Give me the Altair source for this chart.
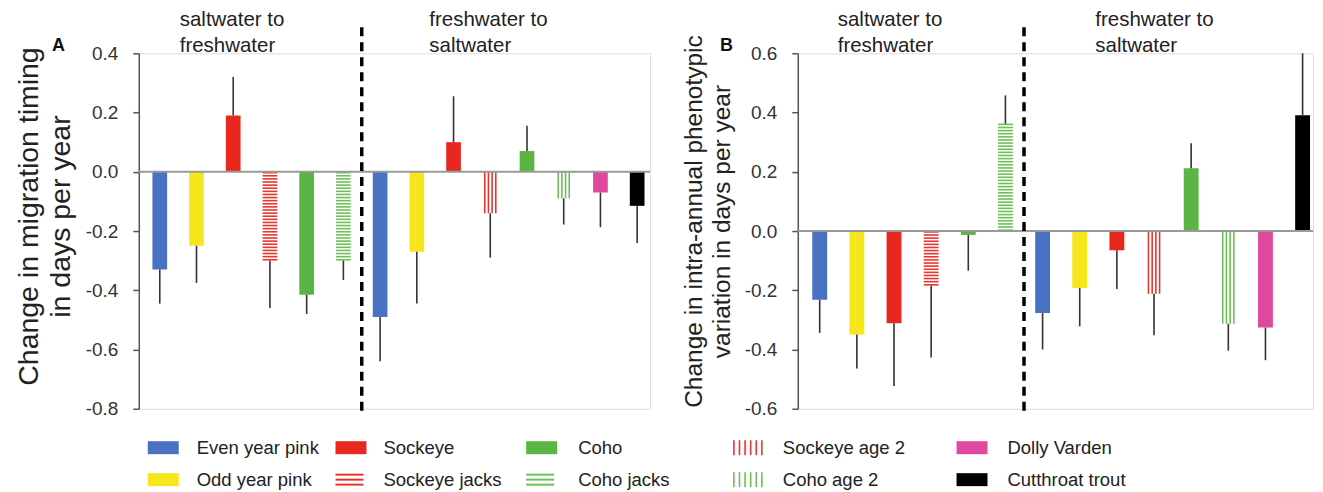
import altair as alt
import pandas as pd

FONT = "Liberation Sans"

# ---------------- data ----------------
species = [
    "Even year pink", "Odd year pink", "Sockeye", "Sockeye jacks", "Coho", "Coho jacks",
    "Even year pink", "Odd year pink", "Sockeye", "Sockeye age 2", "Coho", "Coho age 2",
    "Dolly Varden", "Cutthroat trout",
]
n_left_group = 6

# Panel A: change in migration timing (days per year) and end of error bar
a_values = [-0.33, -0.25, 0.19, -0.30, -0.415, -0.30,
            -0.49, -0.27, 0.10, -0.14, 0.07, -0.09, -0.07, -0.115]
a_err_end = [-0.445, -0.375, 0.32, -0.46, -0.48, -0.365,
             -0.64, -0.445, 0.255, -0.29, 0.155, -0.178, -0.187, -0.24]

# Panel B: change in intra-annual phenotypic variation
b_values = [-0.232, -0.349, -0.311, -0.184, -0.013, 0.362,
            -0.277, -0.192, -0.065, -0.212, 0.212, -0.313, -0.326, 0.391]
b_err_end = [-0.344, -0.464, -0.523, -0.427, -0.134, 0.458,
             -0.40, -0.322, -0.196, -0.352, 0.296, -0.404, -0.436, 0.60]

group_labels = ["saltwater to\nfreshwater", "freshwater to\nsaltwater"]

legend_columns = [
    ["Even year pink", "Odd year pink"],
    ["Sockeye", "Sockeye jacks"],
    ["Coho", "Coho jacks"],
    ["Sockeye age 2", "Coho age 2"],
    ["Dolly Varden", "Cutthroat trout"],
]

# ---------------- styles ----------------
colors = {
    "Even year pink": "#4a72c2",
    "Odd year pink": "#f5e71c",
    "Sockeye": "#e8271f",
    "Sockeye jacks": "#e8352f",
    "Sockeye age 2": "#e8352f",
    "Coho": "#5ab544",
    "Coho jacks": "#6dbf5a",
    "Coho age 2": "#6dbf5a",
    "Dolly Varden": "#e0479e",
    "Cutthroat trout": "#000000",
}
kinds = {"Sockeye jacks": "h", "Coho jacks": "h", "Sockeye age 2": "v", "Coho age 2": "v"}

HALF = 0.2          # half bar width in slot units
H_PITCH = 0.0105    # horizontal stripe pitch (data units)
V_LINES = 4         # vertical stripes per bar
PLOT_H = 356

# legend layout (pixels relative to panel A plot origin)
LEG_SWATCH_X = [9, 197, 388, 594, 819]
LEG_TEXT_X = [58, 245, 440, 645, 870]
LEG_ROW_Y = [395, 427]
SW_W, SW_H = 31, 13


def kind_of(s):
    return kinds.get(s, "s")


def panel(values, err_end, ydomain, xdomain, width, title, title_size, title_y, letter,
          letter_x, label_x):
    df = pd.DataFrame({"slot": list(range(len(species))), "species": species,
                       "value": values, "err": err_end})
    df["kind"] = df["species"].map(kind_of)
    df["color"] = df["species"].map(colors)
    df["x0"] = df["slot"] - HALF
    df["x1"] = df["slot"] + HALF
    df["base"] = 0.0

    # stripes
    hrows, vrows = [], []
    for _, r in df.iterrows():
        sgn = 1 if r["value"] > 0 else -1
        if r["kind"] == "h":
            k = 0
            while (k * H_PITCH + 0.003) < abs(r["value"]):
                hrows.append({"x0": r["x0"], "x1": r["x1"], "y": sgn * (k * H_PITCH + 0.003),
                              "color": r["color"]})
                k += 1
        elif r["kind"] == "v":
            step = (2 * HALF) / V_LINES
            for k in range(V_LINES):
                vrows.append({"x": r["x0"] + step * (k + 0.5), "y": r["value"], "base": 0.0,
                              "color": r["color"]})
    hdf = pd.DataFrame(hrows)
    vdf = pd.DataFrame(vrows)

    xs = alt.Scale(domain=xdomain, nice=False, zero=False)
    ys = alt.Scale(domain=ydomain, nice=False, zero=False)
    lo, hi = ydomain
    ticks = [round(lo + 0.2 * i, 1) for i in range(int(round((hi - lo) / 0.2)) + 1)]

    yaxis = alt.Axis(
        values=ticks, title=title, titleFontSize=title_size, titleFont=FONT,
        titleFontWeight="normal", titleColor="#222", titleLineHeight=title_size + 3,
        titlePadding=10, titleY=title_y,
        labelExpr="datum.value < 0 ? '-' + format(-datum.value, '.1f') : format(datum.value, '.1f')",
        labelFontSize=19, labelFont=FONT, labelColor="#333", labelPadding=15,
        tickSize=6, tickColor="#555", tickWidth=1.5, domainColor="#555", domainWidth=1.5,
        grid=False,
    )

    def Y(field):
        return alt.Y(field, scale=ys, axis=yaxis)

    solid = alt.Chart(df[df["kind"] == "s"]).mark_rect().encode(
        x=alt.X("x0:Q", scale=xs, axis=None), x2="x1",
        y=Y("value:Q"), y2="base",
        color=alt.Color("color:N", scale=None),
    )
    hstripes = alt.Chart(hdf).mark_rule(strokeWidth=1.6).encode(
        x=alt.X("x0:Q", scale=xs, axis=None), x2="x1",
        y=Y("y:Q"),
        color=alt.Color("color:N", scale=None),
    )
    vstripes = alt.Chart(vdf).mark_rule(strokeWidth=1.6).encode(
        x=alt.X("x:Q", scale=xs, axis=None),
        y=Y("y:Q"), y2="base",
        color=alt.Color("color:N", scale=None),
    )
    errs = alt.Chart(df).mark_rule(color="#333", strokeWidth=1.6).encode(
        x=alt.X("slot:Q", scale=xs, axis=None),
        y=Y("value:Q"), y2="err",
    )
    zero = alt.Chart(pd.DataFrame({"base": [0.0]})).mark_rule(
        color="#9a9a9a", strokeWidth=2).encode(
        y=Y("base:Q"), x=alt.value(0), x2=alt.value(width),
    )
    sep = alt.Chart(pd.DataFrame({"sep": [n_left_group - 0.5]})).mark_rule(
        color="black", strokeWidth=3.5, strokeDash=[9, 6]).encode(
        x=alt.X("sep:Q", scale=xs, axis=None),
        y=alt.value(-26), y2=alt.value(PLOT_H + 4),
    )
    layers = [solid, hstripes, vstripes, errs, zero, sep]
    for txt, lx in zip(group_labels, label_x):
        layers.append(
            alt.Chart(pd.DataFrame({"t": [txt]})).mark_text(
                align="left", baseline="alphabetic", font=FONT, fontSize=20.5,
                color="#222", lineBreak="\n", lineHeight=26).encode(
                text="t:N", x=alt.value(lx), y=alt.value(-27))
        )
    layers.append(
        alt.Chart(pd.DataFrame({"t": [letter]})).mark_text(
            align="left", baseline="alphabetic", font=FONT, fontSize=18,
            fontWeight="bold", color="#111").encode(
            text="t:N", x=alt.value(letter_x), y=alt.value(-2))
    )
    return layers


# legend (drawn inside panel A's coordinate frame, beneath both panels)
leg_rows = []
for ci, col in enumerate(legend_columns):
    for ri, name in enumerate(col):
        leg_rows.append({"name": name, "kind": kind_of(name), "color": colors[name],
                         "sx": LEG_SWATCH_X[ci], "tx": LEG_TEXT_X[ci], "cy": LEG_ROW_Y[ri]})
leg = pd.DataFrame(leg_rows)
leg["sx2"] = leg["sx"] + SW_W
leg["sy"] = leg["cy"] - SW_H / 2
leg["sy2"] = leg["cy"] + SW_H / 2

lh, lv = [], []
for _, r in leg.iterrows():
    if r["kind"] == "h":
        for d in (-5, 0, 5):
            lh.append({"x": r["sx"], "x2": r["sx"] + SW_W - 3, "y": r["cy"] + d, "color": r["color"]})
    elif r["kind"] == "v":
        for k in range(6):
            lv.append({"x": r["sx"] + 2 + k * 5.6, "y": r["sy"] - 1, "y2": r["sy2"] + 1,
                       "color": r["color"]})
lh = pd.DataFrame(lh)
lv = pd.DataFrame(lv)

legend_layers = [
    alt.Chart(leg[leg["kind"] == "s"]).mark_rect().encode(
        x=alt.X("sx:Q", scale=None, axis=None), x2="sx2",
        y=alt.Y("sy:Q", scale=None, axis=None), y2="sy2",
        color=alt.Color("color:N", scale=None)),
    alt.Chart(lh).mark_rule(strokeWidth=2).encode(
        x=alt.X("x:Q", scale=None, axis=None), x2="x2",
        y=alt.Y("y:Q", scale=None, axis=None),
        color=alt.Color("color:N", scale=None)),
    alt.Chart(lv).mark_rule(strokeWidth=1.6).encode(
        x=alt.X("x:Q", scale=None, axis=None),
        y=alt.Y("y:Q", scale=None, axis=None), y2="y2",
        color=alt.Color("color:N", scale=None)),
    alt.Chart(leg).mark_text(align="left", baseline="middle", font=FONT, fontSize=18.5,
                             color="#222").encode(
        x=alt.X("tx:Q", scale=None, axis=None),
        y=alt.Y("cy:Q", scale=None, axis=None),
        text="name:N"),
]

A_W, B_W = 512, 516
layers_a = panel(a_values, a_err_end, [-0.8, 0.4], [-0.571, 13.35], A_W,
                 ["Change in migration timing", "in days per year"], 28.5, 163, "A", -87,
                 [41, 291])
layers_b = panel(b_values, b_err_end, [-0.6, 0.6], [-0.59, 13.28], B_W,
                 ["Change in intra-annual phenotypic", "variation in days per year"], 24.5,
                 168, "B", -78, [40, 298])

chart_a = alt.layer(*layers_a, *legend_layers).properties(width=A_W, height=PLOT_H)
chart_b = alt.layer(*layers_b).properties(width=B_W, height=PLOT_H)

chart = alt.hconcat(chart_a, chart_b, spacing=148, bounds="flush").properties(
    padding={"left": 6, "top": 1, "right": 0, "bottom": 0}
).configure_view(strokeWidth=0).configure(background="white")

chart.save("out.html", embed_options={"renderer": "svg", "actions": False})
